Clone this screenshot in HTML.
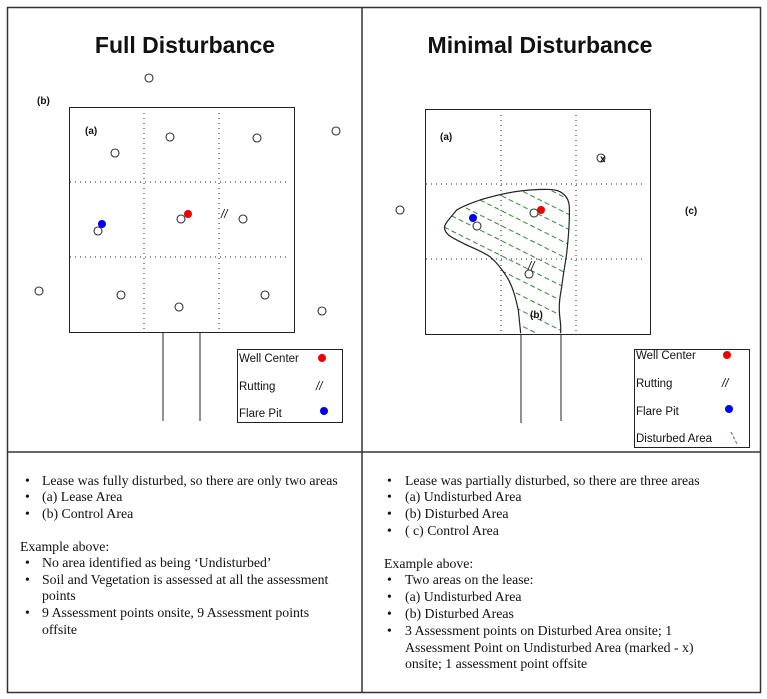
<!DOCTYPE html>
<html><head><style>
html,body{margin:0;padding:0;background:#fff;}
svg{display:block;}
.t{font-family:"Liberation Serif",serif;font-size:13.8px;fill:#111;}
.s{font-family:"Liberation Sans",sans-serif;font-size:11.5px;fill:#111;}
.b{font-family:"Liberation Sans",sans-serif;font-size:10px;font-weight:bold;fill:#111;}
</style></head><body>
<svg width="767" height="699" viewBox="0 0 767 699" xmlns="http://www.w3.org/2000/svg">
<defs>
<clipPath id="cp"><path d="M520.7,333.3 L518.3,310 C515,295 512,285 506.7,276.7 C500,266 495,261 490,256.7 C480,250 470,247 463.3,243.3 C455,239 447,236 445,230 C443,225 447,222 456.7,210 C465,205 472,203 480,200 C500,194 515,191 530,190 C545,189 555,189 560,191.7 C566,195 569,200 569.3,206.7 C570,225 568,240 566.7,253.3 C565,265 563,276 561.7,286.7 C560,297 559,303 559.3,310 C559.5,318 560.7,322 560.7,326.7 L560.7,333.3 Z"/></clipPath>
</defs>
<rect x="7.5" y="7.5" width="753" height="685" fill="none" stroke="#333" stroke-width="1.5"/>
<line x1="362" y1="7" x2="362" y2="693" stroke="#333" stroke-width="1.5"/>
<line x1="7" y1="452" x2="761" y2="452" stroke="#333" stroke-width="1.5"/>

<!-- LEFT -->
<text x="185" y="53" text-anchor="middle" font-family="Liberation Sans,sans-serif" font-weight="bold" font-size="23" fill="#111">Full Disturbance</text>
<rect x="69.5" y="107.5" width="225" height="225" fill="none" stroke="#222" stroke-width="1"/>
<g stroke="#222" stroke-dasharray="1,4" stroke-width="1">
<line x1="144" y1="113" x2="144" y2="332"/><line x1="219" y1="113" x2="219" y2="332"/>
<line x1="70" y1="182" x2="290" y2="182"/><line x1="70" y1="257" x2="290" y2="257"/>
</g>
<line x1="163" y1="332" x2="163" y2="421" stroke="#222"/><line x1="200" y1="332" x2="200" y2="421" stroke="#222"/>
<g fill="#fff" stroke="#333" stroke-width="1.1">
<circle cx="149" cy="78" r="4"/><circle cx="115" cy="153" r="4"/><circle cx="170" cy="137" r="4"/><circle cx="257" cy="138" r="4"/><circle cx="336" cy="131" r="4"/><circle cx="98" cy="231" r="4"/><circle cx="181" cy="219" r="4"/><circle cx="243" cy="219" r="4"/><circle cx="39" cy="291" r="4"/><circle cx="121" cy="295" r="4"/><circle cx="179" cy="307" r="4"/><circle cx="265" cy="295" r="4"/><circle cx="322" cy="311" r="4"/>
</g>
<circle cx="102" cy="224" r="4" fill="#0000ee"/><circle cx="188" cy="214" r="4" fill="#ee0000"/>
<text x="221" y="218" class="s" font-style="italic">//</text>
<text x="37" y="104" class="b">(b)</text><text x="85" y="134" class="b">(a)</text>
<rect x="237.5" y="349.5" width="105" height="73" fill="#fff" stroke="#222"/>
<text x="239" y="362" class="s">Well Center</text><circle cx="322" cy="358" r="4" fill="#ee0000"/>
<text x="239" y="390" class="s">Rutting</text><text x="316" y="390" class="s" font-style="italic">//</text>
<text x="239" y="417" class="s">Flare Pit</text><circle cx="324" cy="411" r="4" fill="#0000ee"/>

<!-- RIGHT -->
<text x="540" y="53" text-anchor="middle" font-family="Liberation Sans,sans-serif" font-weight="bold" font-size="23" fill="#111">Minimal Disturbance</text>
<rect x="425.5" y="109.5" width="225" height="225" fill="none" stroke="#222"/>
<g stroke="#222" stroke-dasharray="1,4">
<line x1="501" y1="115" x2="501" y2="334"/><line x1="576" y1="115" x2="576" y2="334"/>
<line x1="426" y1="184" x2="646" y2="184"/><line x1="426" y1="259" x2="646" y2="259"/>
</g>
<g clip-path="url(#cp)" stroke="#2e8b2e" stroke-dasharray="5,3" stroke-width="1">
<line x1="380" y1="150" x2="620" y2="270"/><line x1="380" y1="165" x2="620" y2="285"/><line x1="380" y1="180" x2="620" y2="300"/><line x1="380" y1="195" x2="620" y2="315"/><line x1="380" y1="210" x2="620" y2="330"/><line x1="380" y1="225" x2="620" y2="345"/><line x1="380" y1="240" x2="620" y2="360"/><line x1="380" y1="255" x2="620" y2="375"/><line x1="380" y1="270" x2="620" y2="390"/><line x1="380" y1="135" x2="620" y2="255"/><line x1="380" y1="120" x2="620" y2="240"/><line x1="380" y1="105" x2="620" y2="225"/><line x1="380" y1="90" x2="620" y2="210"/><line x1="380" y1="75" x2="620" y2="195"/>
</g>
<path d="M520.7,333.3 L518.3,310 C515,295 512,285 506.7,276.7 C500,266 495,261 490,256.7 C480,250 470,247 463.3,243.3 C455,239 447,236 445,230 C443,225 447,222 456.7,210 C465,205 472,203 480,200 C500,194 515,191 530,190 C545,189 555,189 560,191.7 C566,195 569,200 569.3,206.7 C570,225 568,240 566.7,253.3 C565,265 563,276 561.7,286.7 C560,297 559,303 559.3,310 C559.5,318 560.7,322 560.7,326.7 L560.7,333.3" fill="none" stroke="#222" stroke-width="1.2"/>
<line x1="521" y1="334" x2="521" y2="423" stroke="#222"/><line x1="561" y1="334" x2="561" y2="421" stroke="#222"/>
<g fill="#fff" stroke="#333" stroke-width="1.1">
<circle cx="400" cy="210" r="4"/><circle cx="477" cy="226" r="4"/><circle cx="534" cy="213" r="4"/><circle cx="529" cy="274" r="4"/><circle cx="601" cy="158" r="4"/>
</g>
<text x="600" y="162" class="b" font-size="10">x</text>
<circle cx="473" cy="218" r="4" fill="#0000ee"/><circle cx="541" cy="210" r="4" fill="#ee0000"/>
<text x="528" y="270" class="s" font-size="8" font-style="italic">//</text>
<text x="440" y="140" class="b">(a)</text><text x="685" y="214" class="b">(c)</text><text x="530" y="318" class="b">(b)</text>
<rect x="634.5" y="349.5" width="115" height="98" fill="#fff" stroke="#222"/>
<text x="636" y="359" class="s">Well Center</text><circle cx="727" cy="355" r="4" fill="#ee0000"/>
<text x="636" y="387" class="s">Rutting</text><text x="722" y="387" class="s" font-style="italic">//</text>
<text x="636" y="415" class="s">Flare Pit</text><circle cx="729" cy="409" r="4" fill="#0000ee"/>
<text x="636" y="442" class="s">Disturbed Area</text><line x1="731" y1="432" x2="737" y2="444" stroke="#2e8b2e" stroke-dasharray="3,2"/>

<!-- BOTTOM TEXT -->
<g class="t">
<text x="25" y="485">•</text><text x="42" y="485" class="t">Lease was fully disturbed, so there are only two areas</text>
<text x="25" y="501">•</text><text x="42" y="501" class="t">(a) Lease Area</text>
<text x="25" y="518">•</text><text x="42" y="518" class="t">(b) Control Area</text>
<text x="20" y="551" class="t">Example above:</text>
<text x="25" y="567">•</text><text x="42" y="567" class="t">No area identified as being ‘Undisturbed’</text>
<text x="25" y="584">•</text><text x="42" y="584" class="t">Soil and Vegetation is assessed at all the assessment</text>
<text x="42" y="600" class="t">points</text>
<text x="25" y="617">•</text><text x="42" y="617" class="t">9 Assessment points onsite, 9 Assessment points</text>
<text x="42" y="634" class="t">offsite</text>

<text x="387" y="485">•</text><text x="405" y="485" class="t">Lease was partially disturbed, so there are three areas</text>
<text x="387" y="501">•</text><text x="405" y="501" class="t">(a) Undisturbed Area</text>
<text x="387" y="518">•</text><text x="405" y="518" class="t">(b) Disturbed Area</text>
<text x="387" y="535">•</text><text x="405" y="535" class="t">( c) Control Area</text>
<text x="384" y="568" class="t">Example above:</text>
<text x="387" y="584">•</text><text x="405" y="584" class="t">Two areas on the lease:</text>
<text x="387" y="601">•</text><text x="405" y="601" class="t">(a) Undisturbed Area</text>
<text x="387" y="618">•</text><text x="405" y="618" class="t">(b) Disturbed Areas</text>
<text x="387" y="635">•</text><text x="405" y="635" class="t">3 Assessment points on Disturbed Area onsite; 1</text>
<text x="405" y="652" class="t">Assessment Point on Undisturbed Area (marked - x)</text>
<text x="405" y="668" class="t">onsite; 1 assessment point offsite</text>
</g>
</svg>
</body></html>
